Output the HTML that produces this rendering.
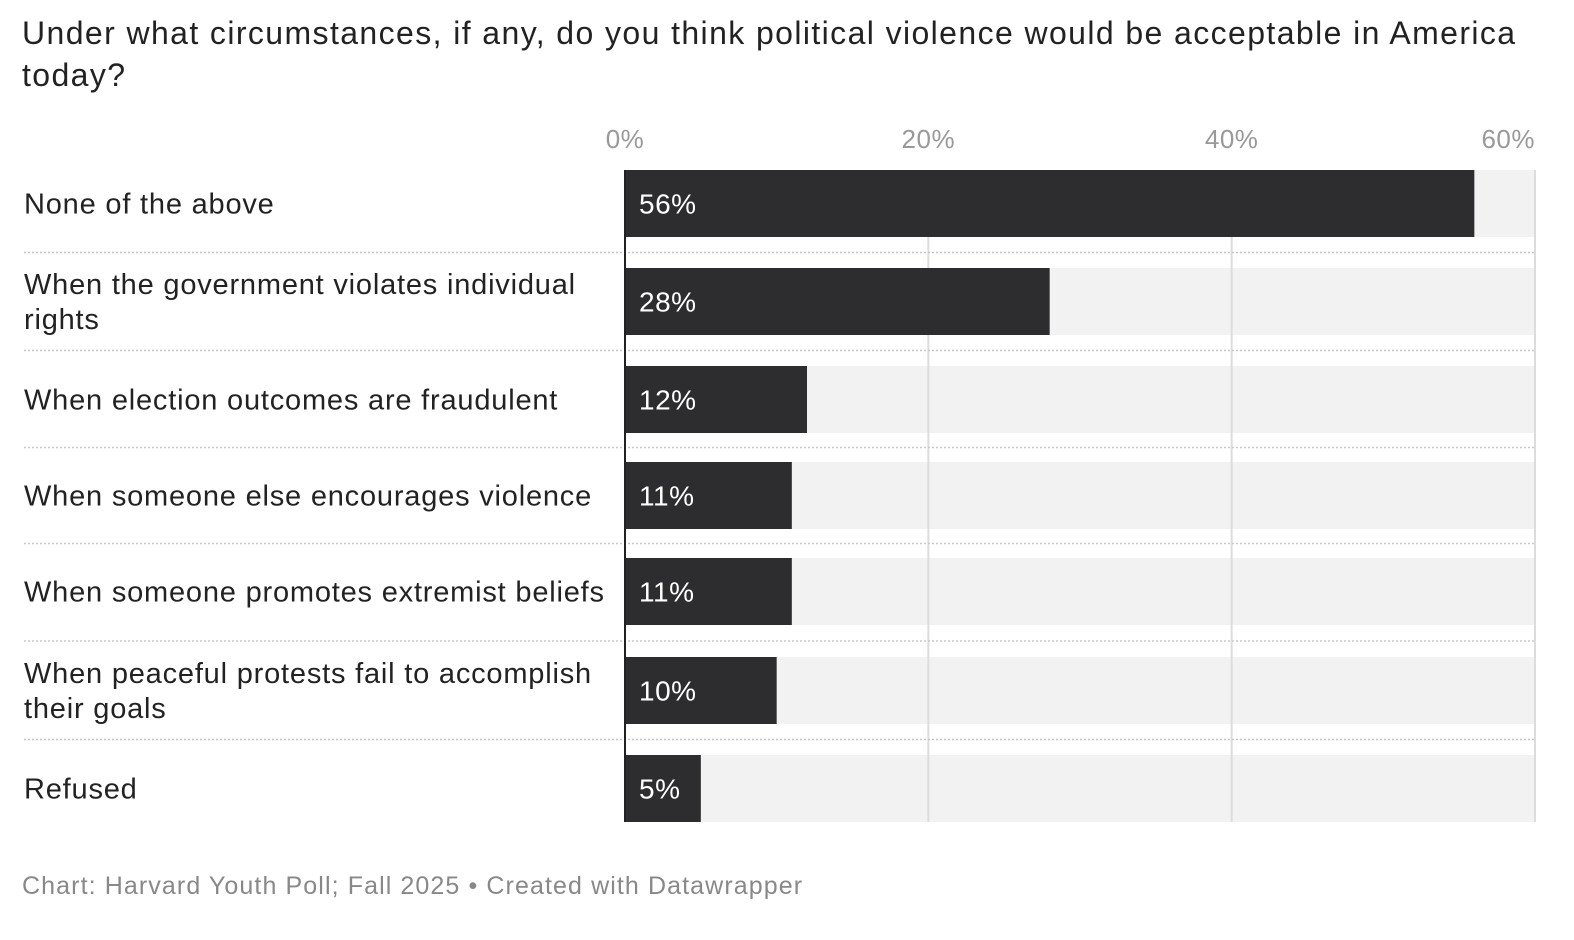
<!DOCTYPE html>
<html><head><meta charset="utf-8"><style>
body{margin:0;background:#fff;width:1574px;height:940px;overflow:hidden;font-family:"Liberation Sans",sans-serif;}
#title{position:absolute;left:22px;top:12px;width:1545px;font-size:32px;line-height:42px;color:#222;letter-spacing:1.4px;}
#foot{position:absolute;left:22px;top:872px;font-size:25px;color:#888;letter-spacing:1.1px;}
svg{position:absolute;left:0;top:0;}
</style></head><body>
<div id="title">Under what circumstances, if any, do you think political violence would be acceptable in America<br>today?</div>
<svg id="chart" width="1574" height="940"></svg>
<div id="foot">Chart: Harvard Youth Poll; Fall 2025 • Created with Datawrapper</div>
<script>
const categories=[["None of the above"],["When the government violates individual","rights"],["When election outcomes are fraudulent"],["When someone else encourages violence"],["When someone promotes extremist beliefs"],["When peaceful protests fail to accomplish","their goals"],["Refused"]];
const values=[56,28,12,11,11,10,5];
const ticks=[0,20,40,60];
const tickLabels=["0%","20%","40%","60%"];
const svg=document.getElementById('chart');const NS='http://www.w3.org/2000/svg';
const x=v=>625+v*(1535-625)/60;
const barTops=[170,268,366,462,558,657,755];const bh=67;
function mk(t,a){const e=document.createElementNS(NS,t);for(const k in a)e.setAttribute(k,a[k]);svg.appendChild(e);return e;}
values.forEach((v,i)=>{const y=barTops[i];
const bg=mk('rect',{x:625,y:y,width:910,height:bh,fill:'#f2f2f2'});

});
ticks.forEach((t,i)=>{if(t>0){const l=mk('line',{x1:x(t),x2:x(t),y1:170,y2:822,stroke:'#dcdcdc','stroke-width':2});

}
const tx=mk('text',{x:x(t),y:148,'font-size':26,fill:'#999','letter-spacing':0.5,'text-anchor':i==ticks.length-1?'end':'middle'});
if(i==ticks.length-1)tx.setAttribute('x',1535);
tx.textContent=tickLabels[i];

});
values.forEach((v,i)=>{const y=barTops[i];
const r=mk('rect',{x:625,y:y,width:x(v)-625,height:bh,fill:'#2d2d30'});


const t=mk('text',{x:639,y:y+bh/2+10,'font-size':28,fill:'#fff','letter-spacing':0.5});t.textContent=v+'%';


const lines=categories[i];const lab=mk('text',{x:24,'font-size':29,fill:'#222','letter-spacing':0.8});


lines.forEach((s,j)=>{const ts=document.createElementNS(NS,'tspan');ts.setAttribute('x',24);ts.setAttribute('y',y+bh/2+10+(lines.length>1?(j-0.5)*35:0));ts.textContent=s;lab.appendChild(ts);});
if(i<values.length-1){const sy=(y+bh+barTops[i+1])/2;
const d=mk('line',{x1:24,x2:1535,y1:sy,y2:sy,stroke:'#c8c8c8','stroke-width':1.5,'stroke-dasharray':'2 2'});

}});
const ax=mk('line',{x1:625,x2:625,y1:170,y2:822,stroke:'#222','stroke-width':2});


</script>
</body></html>
